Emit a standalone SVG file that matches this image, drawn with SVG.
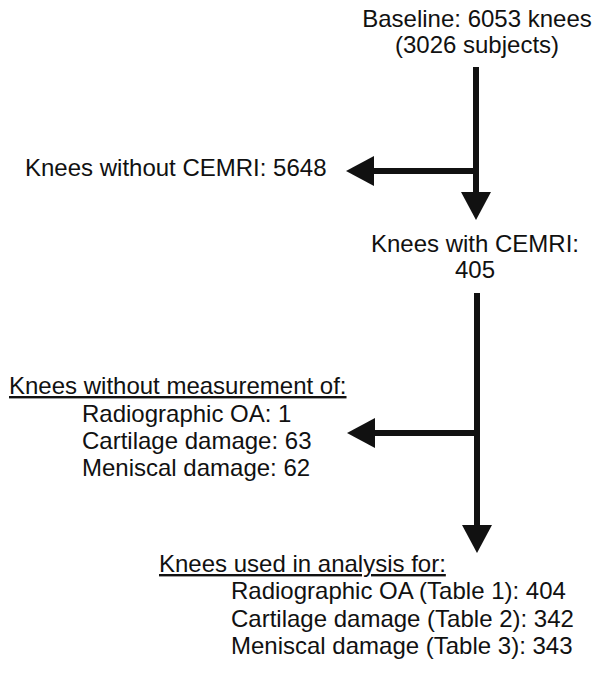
<svg xmlns="http://www.w3.org/2000/svg" width="601" height="675" viewBox="0 0 601 675">
<defs>
<marker id="arr" viewBox="0 0 28 30" refX="0" refY="15" markerWidth="28" markerHeight="30" markerUnits="userSpaceOnUse" orient="auto">
<path d="M0,0 L28,15 L0,30 Z" fill="#111"/>
</marker>
<style>
text{font-family:"Liberation Sans",Arial,sans-serif;font-size:24px;fill:#111}
.c{text-anchor:middle}
.u{text-decoration:underline}
.ln{fill:none;stroke:#111;stroke-width:6;marker-end:url(#arr)}
</style>
</defs>
<rect width="601" height="675" fill="#fff"/>
<g id="connectors">
<path class="ln" d="M476,67 V192"/>
<path class="ln" d="M479,171 H374"/>
<path class="ln" d="M477,293 V525"/>
<path class="ln" d="M480,433 H375"/>
</g>
<g id="baseline">
<text class="c" x="477" y="27">Baseline: 6053 knees</text>
<text class="c" x="477" y="53">(3026 subjects)</text>
</g>
<g id="without-cemri">
<text x="25" y="176">Knees without CEMRI: 5648</text>
</g>
<g id="with-cemri">
<text class="c" x="475" y="252">Knees with CEMRI:</text>
<text class="c" x="475" y="278">405</text>
</g>
<g id="without-measurement">
<text class="u" x="9" y="394">Knees without measurement of:</text>
<text x="82" y="422">Radiographic OA: 1</text>
<text x="82" y="449">Cartilage damage: 63</text>
<text x="82" y="476">Meniscal damage: 62</text>
</g>
<g id="used-in-analysis">
<text class="u" x="159" y="572">Knees used in analysis for:</text>
<text x="231" y="599">Radiographic OA (Table 1): 404</text>
<text x="231" y="627">Cartilage damage (Table 2): 342</text>
<text x="231" y="654">Meniscal damage (Table 3): 343</text>
</g>
</svg>
